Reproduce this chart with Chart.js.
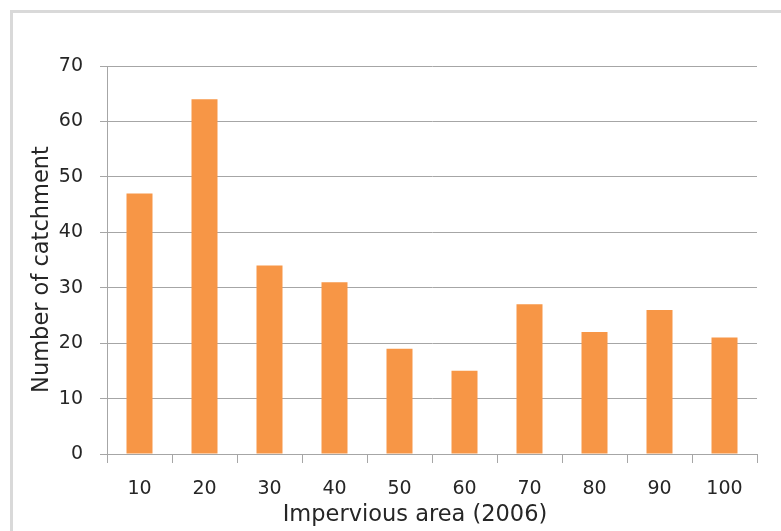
<!DOCTYPE html>
<html><head><meta charset="utf-8">
<script src="https://cdn.jsdelivr.net/npm/chart.js@4/dist/chart.umd.min.js"></script>
<style>
html,body{margin:0;padding:0;background:#fff;overflow:hidden}
#frame{position:absolute;left:10px;top:10px;width:800px;height:600px;border:3px solid #d9d9d9;box-sizing:border-box}
#wrap{position:absolute;left:0;top:0;width:781px;height:531px}
</style></head><body>
<div id="frame"></div>
<div id="wrap"><canvas id="c" width="781" height="531"></canvas></div>
<script>
const categories = ['10', '20', '30', '40', '50', '60', '70', '80', '90', '100'];
const counts = [47, 64, 34, 31, 19, 15, 27, 22, 26, 21];
const yMin = 0, yMax = 70, yStep = 10;
const xTitle = 'Impervious area (2006)';
const yTitle = 'Number of catchment';

const textColor = '#262626';
const gridColor = '#a6a6a6';
const fam = '"DejaVu Sans", sans-serif';

// Axis titles drawn as real canvas text, placed like the original (slightly off-centre)
const axisTitles = {
  id: 'axisTitles',
  afterDraw(chart) {
    const { ctx, chartArea } = chart;
    ctx.save();
    ctx.fillStyle = textColor;
    ctx.font = '22.5px ' + fam;
    ctx.textAlign = 'center';
    ctx.textBaseline = 'alphabetic';
    ctx.fillText(xTitle, (chartArea.left + chartArea.right) / 2 - 17, chartArea.bottom + 67);
    ctx.translate(47.5, (chartArea.top + chartArea.bottom) / 2 + 9.5);
    ctx.rotate(-Math.PI / 2);
    ctx.fillText(yTitle, 0, 0);
    ctx.restore();
  }
};

new Chart(document.getElementById('c'), {
  type: 'bar',
  data: {
    labels: categories,
    datasets: [{
      data: counts,
      backgroundColor: '#F79646',
      borderWidth: 0,
      barPercentage: 0.4,
      categoryPercentage: 1
    }]
  },
  plugins: [axisTitles],
  options: {
    responsive: false,
    animation: false,
    devicePixelRatio: 1,
    layout: { padding: { left: 0, top: 66, right: 24, bottom: 0 } },
    plugins: { legend: { display: false }, tooltip: { enabled: false } },
    scales: {
      x: {
        grid: { offset: true, drawOnChartArea: false, drawTicks: true, tickLength: 9, color: gridColor },
        border: { color: gridColor },
        ticks: { color: textColor, font: { family: fam, size: 19 }, padding: 14.5, maxRotation: 0 },
        afterFit(s) { s.height = 77; }
      },
      y: {
        min: yMin, max: yMax,
        grid: { color: gridColor, tickLength: 7 },
        border: { color: gridColor },
        ticks: { stepSize: yStep, color: textColor, font: { family: fam, size: 19 }, padding: 17 },
        afterFit(s) { s.width = 107; }
      }
    }
  }
});
</script>
</body></html>
